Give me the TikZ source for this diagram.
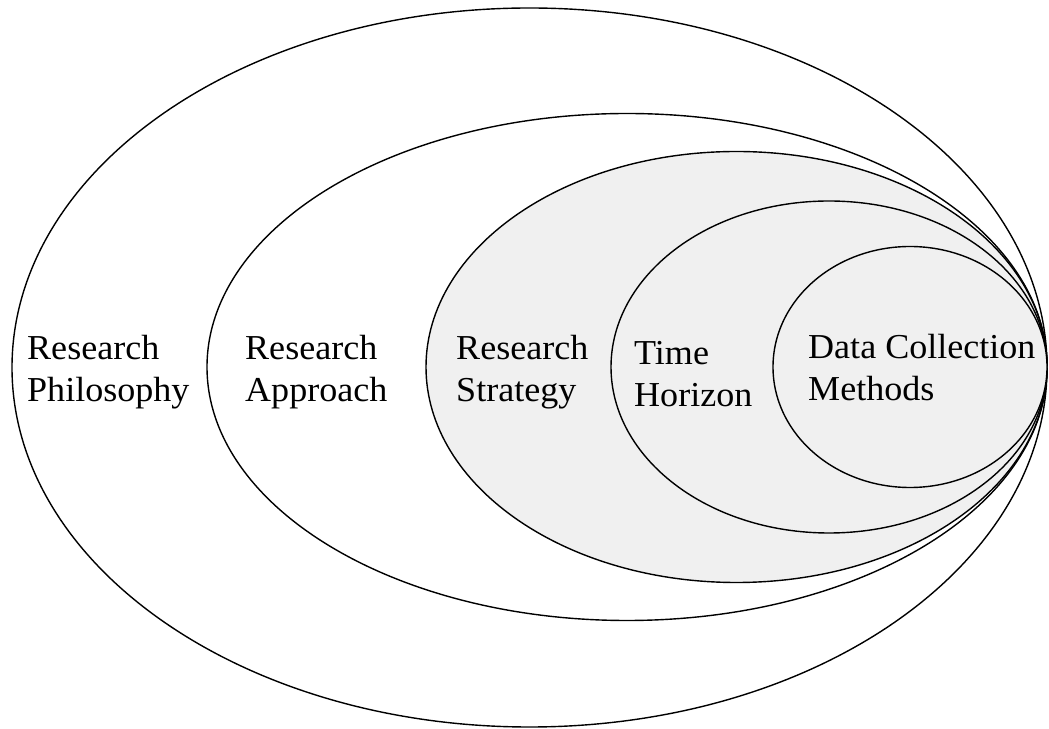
\documentclass[tikz,border=0pt]{standalone}
\usepackage{fontspec}
\setmainfont{Liberation Serif}[FakeStretch=1.03]
\begin{document}
\begin{tikzpicture}[x=1pt,y=1pt,
  ring/.style={draw=black,line width=1.4pt},
  inner ring/.style={ring,fill=shade},
  label/.style={anchor=west,align=left,inner sep=0pt,
    font=\fontsize{35}{42}\selectfont}]
\definecolor{shade}{HTML}{F0F0F0}
\useasboundingbox (0,0) rectangle (1049,728);
% nested rings, all touching at the right-hand side
\draw[ring]       (529.5,360.5) ellipse [x radius=517.5, y radius=359.5];
\draw[ring]       (627,361)   ellipse [x radius=420,   y radius=253.5];
\draw[inner ring] (736.5,361) ellipse [x radius=310.5, y radius=215.5];
\draw[inner ring] (829,361)   ellipse [x radius=218,   y radius=166];
\draw[inner ring] (910,361)   ellipse [x radius=137,   y radius=120.5];
% layer names
\node[label] (philosophy) at (27,356)  {Research\\Philosophy};
\node[label] (approach)   at (245,356) {Research\\Approach};
\node[label] (strategy)   at (456,356) {Research\\Strategy};
\node[label] (horizon)    at (634,354) {Time\\Horizon};
\node[label] (methods)    at (808,360) {Data Collection\\Methods};
\end{tikzpicture}
\end{document}
